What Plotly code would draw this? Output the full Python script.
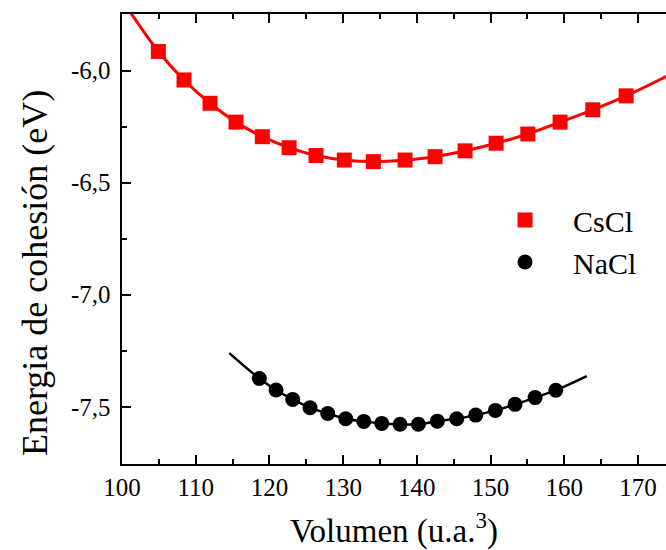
import plotly.graph_objects as go

# CsCl data (volume in a.u.^3, cohesive energy in eV)
cscl_vol = [104.93, 108.41, 111.94, 115.47, 119.04, 122.67, 126.32, 130.16, 134.10,
            138.40, 142.47, 146.54, 150.75, 155.05, 159.43, 163.87, 168.39]
cscl_e = [-5.915, -6.042, -6.146, -6.230, -6.295, -6.344, -6.379, -6.399, -6.406,
          -6.399, -6.384, -6.358, -6.324, -6.283, -6.230, -6.175, -6.113]

# NaCl data
nacl_vol = [118.63, 120.90, 123.16, 125.51, 127.91, 130.35, 132.80, 135.24, 137.72,
            140.20, 142.78, 145.41, 147.99, 150.65, 153.32, 156.04, 158.85]
nacl_e = [-7.373, -7.424, -7.466, -7.503, -7.529, -7.552, -7.564, -7.573, -7.577,
          -7.577, -7.563, -7.552, -7.536, -7.515, -7.488, -7.458, -7.425]

# fitted curves
cscl_fit_x = [101.0] + cscl_vol + [174.6]
cscl_fit_y = [-5.734] + cscl_e + [-6.014]
nacl_fit_x = [114.56] + nacl_vol + [163.05]
nacl_fit_y = [-7.260] + nacl_e + [-7.362]

x_ticks = [100, 110, 120, 130, 140, 150, 160, 170]
y_ticks = [-6.0, -6.5, -7.0, -7.5]
y_ticklabels = ["-6,0", "-6,5", "-7,0", "-7,5"]

FONT = "Liberation Serif, Times New Roman, serif"

fig = go.Figure()
fig.add_trace(go.Scatter(x=cscl_fit_x, y=cscl_fit_y, mode="lines",
                         line=dict(color="#ff0000", width=3, shape="spline"),
                         showlegend=False, hoverinfo="skip"))
fig.add_trace(go.Scatter(x=nacl_fit_x, y=nacl_fit_y, mode="lines",
                         line=dict(color="black", width=2.5, shape="spline"),
                         showlegend=False, hoverinfo="skip"))
fig.add_trace(go.Scatter(x=cscl_vol, y=cscl_e, mode="markers", name="CsCl",
                         marker=dict(symbol="square", size=15, color="#ff0000")))
fig.add_trace(go.Scatter(x=nacl_vol, y=nacl_e, mode="markers", name="NaCl",
                         marker=dict(symbol="circle", size=15, color="black")))

annotations = [dict(text="Energia de cohesión (eV)", textangle=-90,
                    xref="paper", yref="paper", x=-0.16, y=0.4244,
                    xanchor="center", yanchor="middle", showarrow=False,
                    font=dict(family=FONT, size=36, color="black"))]
# y tick labels placed at the tick values through the y axis
for v, t in zip(y_ticks, y_ticklabels):
    annotations.append(dict(text=t, xref="paper", yref="y", x=-0.0165, y=v,
                            xanchor="right", yanchor="middle", showarrow=False,
                            font=dict(family=FONT, size=25, color="black")))

fig.update_layout(
    width=666, height=550,
    margin=dict(l=122, r=0, t=14, b=86),
    paper_bgcolor="white", plot_bgcolor="white",
    separators=",.",
    font=dict(family=FONT, color="black"),
    legend=dict(x=0.6526, y=0.4956, xanchor="left", yanchor="middle", itemwidth=86,
                font=dict(family=FONT, size=30, color="black"),
                bgcolor="rgba(0,0,0,0)"),
    annotations=annotations,
)
fig.update_xaxes(
    range=[100, 173.8], tickvals=x_ticks, ticks="inside", ticklen=9, tickwidth=1.5,
    tickcolor="black", showline=True, linewidth=2, linecolor="black", mirror="ticks",
    showgrid=False, zeroline=False, tickfont=dict(family=FONT, size=25),
    minor=dict(dtick=5, ticks="inside", ticklen=5, tickwidth=1.5, tickcolor="black", showgrid=False),
    title=dict(text="Volumen (u.a.<sup>3</sup>)", font=dict(family=FONT, size=33), standoff=19),
)
fig.update_yaxes(
    range=[-7.754, -5.748], tickvals=y_ticks, showticklabels=False, ticks="inside", ticklen=9,
    tickwidth=1.5, tickcolor="black", showline=True, linewidth=2, linecolor="black",
    mirror=False, showgrid=False, zeroline=False,
    minor=dict(dtick=0.25, ticks="inside", ticklen=5, tickwidth=1.5, tickcolor="black", showgrid=False),
)

fig.write_html("out.html")
